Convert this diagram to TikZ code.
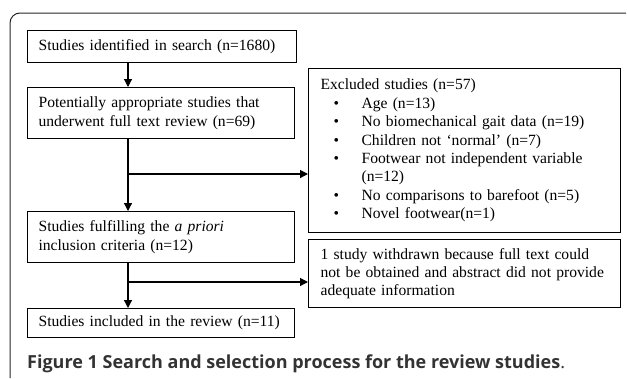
\documentclass[tikz,border=0pt]{standalone}
\usepackage{fontspec}
\setmainfont{Liberation Serif}
\newfontfamily\capfont{Open Sans}
\usetikzlibrary{arrows.meta,positioning}
\tikzset{
  flowbox/.style={draw, line width=1.2pt, anchor=north west, align=left,
    inner xsep=11pt, inner ysep=0pt, font=\fontsize{15.6}{18.4}\selectfont},
  flow/.style={-{Triangle[length=8pt,width=8pt]}, line width=1.2pt},
}
\newcommand{\exitem}[1]{\makebox[41pt][l]{\hspace*{13pt}\textbullet}#1}
\begin{document}
\begin{tikzpicture}[x=1pt, y=-1pt]
  \useasboundingbox (0,0) rectangle (627,378);
  % 1. outer frame
  \draw[line width=1pt, rounded corners=10pt, black!85] (10,378) -- (10,13) -- (626,13);

  % 2. main column
  \node[flowbox, text width=247pt, minimum height=32pt] (ident) at (27,30)
    {Studies identified in search (n=1680)};
  \node[flowbox, text width=245pt, minimum height=51pt] (review) at (27,87)
    {Potentially appropriate studies that\\underwent full text review (n=69)};
  \node[flowbox, text width=245pt, minimum height=51pt] (apriori) at (27,211)
    {Studies fulfilling the \textit{a priori}\\inclusion criteria (n=12)};
  \node[flowbox, text width=245pt, minimum height=29pt] (incl) at (27,308)
    {Studies included in the review (n=11)};

  % 3. exclusion boxes
  \node[flowbox, inner xsep=12pt, text width=288pt, minimum height=164pt] (excl) at (308,68)
    {Excluded studies (n=57)\\
     \exitem{Age (n=13)}\\
     \exitem{No biomechanical gait data (n=19)}\\
     \exitem{Children not `normal' (n=7)}\\
     \exitem{Footwear not independent variable}\\
     \hspace*{41pt}(n=12)\\
     \exitem{No comparisons to barefoot (n=5)}\\
     \exitem{Novel footwear(n=1)}};
  \node[flowbox, inner xsep=12pt, text width=288pt, minimum height=68pt] (wdrawn) at (308,239)
    {1 study withdrawn because full text could\\not be obtained and abstract did not provide\\adequate information};

  % 4. connectors
  \coordinate (spine) at (128,0);
  \coordinate (split1) at (128,174);
  \coordinate (split2) at (128,282);
  \draw[flow] (ident.south -| spine) -- (review.north -| spine);
  \draw[flow] (review.south -| spine) -- (apriori.north -| spine);
  \draw[flow] (split1) -- (split1 -| excl.west);
  \draw[flow] (apriori.south -| spine) -- (incl.north -| spine);
  \draw[flow] (split2) -- (split2 -| wdrawn.west);

  % 5. caption
  \node[anchor=base west, inner sep=0pt, text=black!80,
        font=\capfont\fontsize{18}{21}\selectfont] (caption) at (27,368)
    {\textbf{Figure 1 Search and selection process for the review studies}.};
\end{tikzpicture}
\end{document}
